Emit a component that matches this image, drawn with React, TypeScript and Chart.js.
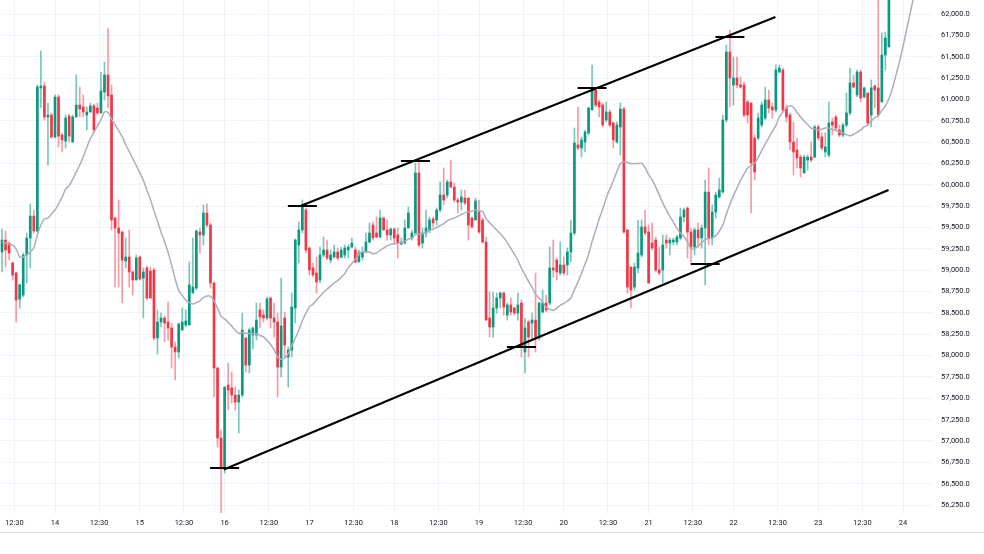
import React, { useEffect, useRef } from 'react';
import { Chart, registerables } from 'chart.js';
Chart.register(...registerables);

// Hourly candles; x = hours since day "14" 00:00
const FIRST_HOUR = -15;

const opens = [
  59213, 59353, 59318, 59084, 58967, 58663, 58709, 59178, 59377, 59634,
  59459, 61134, 61157, 60794, 60817, 60560, 61028, 60583, 60513, 60806,
  60501, 60794, 60934, 60911, 60817, 60852, 60923, 60899, 60841, 61087,
  61286, 61052, 59611, 59494, 59447, 59107, 59154, 58979, 58885, 59154,
  58908, 59026, 58990, 59002, 58206, 58393, 58440, 58393, 58323, 58100,
  58042, 58299, 58358, 58358, 58733, 58791, 59447, 59412, 59670, 59529,
  58850, 57854, 57035, 56671, 57655, 57620, 57538, 57456, 57538, 58206,
  57889, 58241, 58241, 58534, 58475, 58440, 58674, 58440, 58393, 57866,
  58440, 57983, 58065, 58557, 59295, 59471, 59705, 59260, 59026, 58967,
  58885, 59178, 59236, 59119, 59154, 59213, 59154, 59178, 59236, 59271,
  59236, 59096, 59154, 59213, 59330, 59529, 59435, 59389, 59611, 59471,
  59412, 59482, 59412, 59307, 59318, 59494, 59377, 59435, 60138, 59318,
  59435, 59471, 59599, 59588, 59705, 59880, 59880, 60033, 59974, 59822,
  59798, 59845, 59845, 59611, 59588, 59681, 59588, 59330, 58440, 58335,
  58557, 58674, 58733, 58475, 58593, 58557, 58498, 58616, 58042, 58393,
  58381, 58416, 58206, 58510, 58616, 58616, 59026, 59119, 58967, 59061,
  59061, 59213, 59435, 60466, 60431, 60501, 60607, 60876, 61110, 60970,
  60934, 60759, 60852, 60724, 60501, 60677, 60888, 59471, 59037, 58803,
  59026, 59178, 59506, 59447, 59318, 59353, 59002, 59002, 59353, 59318,
  59330, 59330, 59377, 59623, 59728, 59447, 59271, 59471, 59377, 59494,
  59915, 59377, 59681, 59857, 59915, 60759, 61555, 61169, 61251, 61169,
  61169, 60970, 60958, 60548, 60548, 60700, 60782, 60993, 60911, 60876,
  61321, 61344, 60899, 60817, 60501, 60407, 60325, 60138, 60290, 60325,
  60325, 60677, 60560, 60384, 60349, 60735, 60794, 60642, 60583, 60700,
  60841, 61192, 61052, 61321, 61028, 61075, 60817, 61157, 61134, 60970,
  61520, 61614, 62223, 62900, 63500, 63900, 64300, 64500, 64400, 64600,
];

const highs = [
  59482, 59459, 59330, 59096, 58979, 58838, 59201, 59435, 59775, 59705,
  61169, 61567, 61204, 60958, 60841, 61052, 61052, 60607, 60817, 60829,
  60817, 61286, 61145, 61052, 60911, 60958, 60946, 60958, 61321, 61438,
  61836, 61169, 59623, 59822, 59459, 59377, 59471, 58990, 59178, 59166,
  59026, 59049, 59037, 59026, 58534, 58498, 58463, 58627, 58381, 58159,
  58381, 58557, 58534, 59096, 59377, 59471, 59494, 59763, 59775, 59553,
  58862, 57866, 57129, 57632, 57913, 57807, 57632, 57597, 58498, 58217,
  58323, 58335, 58616, 58616, 58534, 58686, 58686, 58616, 58498, 58908,
  58510, 58100, 58733, 59365, 59564, 59822, 59728, 59271, 59084, 59154,
  59271, 59389, 59353, 59236, 59295, 59260, 59271, 59295, 59295, 59377,
  59271, 59236, 59271, 59435, 59553, 59564, 59623, 59705, 59623, 59588,
  59494, 59494, 59494, 59377, 59588, 59740, 59471, 60255, 60267, 59494,
  59705, 59623, 59623, 59728, 60033, 60197, 60056, 60290, 60021, 59845,
  59939, 59939, 59845, 59623, 59845, 59822, 59611, 59389, 58745, 58745,
  58733, 58745, 58745, 58616, 58674, 58569, 58733, 58651, 58440, 58416,
  58498, 58967, 58627, 58768, 58709, 59271, 59353, 59143, 59330, 59154,
  59260, 59588, 60665, 60911, 60560, 60642, 60911, 61403, 61134, 60993,
  60958, 60970, 60876, 60735, 60735, 60958, 60911, 59471, 59037, 59084,
  59588, 59588, 59705, 59529, 59553, 59389, 59271, 59412, 59412, 59377,
  59377, 59412, 59728, 59728, 59740, 59494, 59494, 59553, 59529, 60056,
  60197, 59763, 59915, 60079, 60817, 61637, 61813, 61496, 61496, 61262,
  61204, 60993, 60958, 60583, 60841, 60970, 61145, 61110, 60958, 61403,
  61403, 61368, 60934, 60841, 60735, 60548, 60349, 60349, 60349, 60501,
  60700, 60700, 60607, 60607, 60970, 60782, 60817, 60700, 60724, 61075,
  61368, 61286, 61344, 61344, 61145, 61075, 61227, 61169, 62281, 61778,
  61789, 62340, 63050, 63650, 64050, 64450, 64700, 64650, 64800, 64900,
];

const lows = [
  58979, 59037, 59119, 58885, 58393, 58557, 58686, 58850, 59026, 59435,
  59447, 60899, 60759, 60231, 60548, 60548, 60443, 60384, 60431, 60501,
  60501, 60794, 60794, 60794, 60642, 60852, 60618, 60817, 60841, 60993,
  60899, 59471, 58803, 58803, 58616, 59026, 58803, 58709, 58885, 58885,
  58440, 58651, 58674, 58182, 58018, 58335, 58159, 58182, 57854, 57714,
  57971, 58299, 58335, 58358, 58733, 58768, 59201, 59295, 59506, 58791,
  57515, 56929, 56160, 56625, 57363, 57445, 57363, 57094, 57515, 57807,
  57796, 58077, 58182, 58323, 58393, 58416, 58323, 58217, 57515, 57749,
  57971, 57632, 57983, 58381, 59084, 59435, 59201, 58944, 58920, 58733,
  58850, 59154, 59119, 59084, 59143, 59119, 59143, 59143, 59143, 59260,
  59084, 59096, 59119, 59201, 59318, 59353, 59377, 59377, 59471, 59353,
  59353, 59318, 59143, 59295, 59307, 59494, 59353, 59435, 59271, 59260,
  59389, 59435, 59506, 59529, 59681, 59763, 59845, 59962, 59798, 59670,
  59705, 59763, 59353, 59494, 59588, 59435, 59318, 58416, 58217, 58217,
  58498, 58557, 58475, 58416, 58475, 58475, 58416, 57983, 57796, 57983,
  58182, 58042, 58182, 58498, 58510, 58593, 58920, 58885, 58944, 58944,
  58944, 59096, 59412, 60407, 60325, 60384, 60583, 60876, 60911, 60794,
  60677, 60735, 60677, 60431, 60489, 60349, 59435, 58733, 58557, 58768,
  58967, 59154, 59412, 58850, 59236, 58979, 58944, 58850, 59260, 59178,
  59295, 59295, 59353, 59564, 59143, 59096, 59178, 59271, 59260, 58827,
  59295, 59295, 59611, 59845, 59904, 60735, 60911, 60934, 61134, 61134,
  60794, 60724, 59670, 60056, 60525, 60677, 60759, 60841, 60782, 60852,
  61309, 60852, 60735, 60407, 60115, 60197, 60091, 60138, 60173, 60267,
  60314, 60525, 60407, 60325, 60325, 60583, 60642, 60560, 60560, 60677,
  60817, 61134, 61028, 60970, 61016, 60700, 60677, 60899, 60794, 60970,
  61344, 61614, 62190, 62800, 63350, 63750, 64150, 64200, 64300, 64450,
];

const closes = [
  59353, 59236, 59201, 58944, 58651, 58827, 59178, 59377, 59634, 59459,
  61145, 61157, 60794, 60817, 60560, 61028, 60571, 60525, 60782, 60571,
  60794, 60934, 60888, 60852, 60852, 60923, 60642, 60841, 61098, 61286,
  61040, 59588, 59494, 59435, 59119, 59154, 58979, 58885, 59143, 58897,
  58979, 58674, 58674, 58206, 58393, 58440, 58381, 58323, 58100, 58042,
  58370, 58393, 58405, 58827, 58803, 59459, 59412, 59670, 59529, 58850,
  57854, 57035, 56683, 57632, 57597, 57538, 57456, 57538, 58299, 57889,
  58299, 58323, 58416, 58452, 58440, 58663, 58440, 58393, 57866, 58346,
  58124, 58065, 58569, 59353, 59471, 59763, 59236, 59002, 58944, 58862,
  59178, 59236, 59143, 59178, 59213, 59143, 59236, 59260, 59271, 59318,
  59096, 59201, 59213, 59330, 59435, 59377, 59389, 59611, 59471, 59412,
  59482, 59377, 59318, 59330, 59494, 59670, 59435, 60138, 59295, 59435,
  59494, 59588, 59553, 59705, 59880, 59822, 60033, 59974, 59822, 59798,
  59857, 59787, 59529, 59506, 59810, 59447, 59330, 58416, 58335, 58557,
  58674, 58733, 58569, 58593, 58510, 58498, 58593, 58100, 58323, 58217,
  58416, 58217, 58616, 58616, 58534, 59026, 59002, 58979, 59061, 58967,
  59213, 59435, 60489, 60431, 60525, 60618, 60899, 61110, 60934, 60911,
  60700, 60852, 60700, 60525, 60700, 60888, 59447, 58803, 58768, 59037,
  59201, 59506, 59435, 58850, 59260, 59002, 58967, 59295, 59318, 59353,
  59353, 59389, 59623, 59705, 59447, 59271, 59471, 59377, 59494, 59915,
  59377, 59681, 59880, 59939, 60759, 61555, 61251, 61251, 61169, 61145,
  60817, 60817, 60255, 60150, 60782, 60934, 60993, 60899, 60876, 61344,
  61368, 60876, 60794, 60501, 60384, 60314, 60197, 60325, 60325, 60290,
  60677, 60548, 60431, 60443, 60724, 60700, 60665, 60583, 60700, 60841,
  61192, 61145, 61321, 61016, 61134, 60724, 61134, 61110, 60817, 61520,
  61719, 62223, 62900, 63500, 63900, 64300, 64500, 64400, 64600, 64700,
];

// moving average (20) values for the first candles (earlier history not shown)
const MA_PERIOD = 20;
const maHead = [
  59330, 59319, 59307, 59295, 59248, 59155, 59155, 59178, 59213, 59260,
  59412, 59529, 59599, 59611, 59658, 59705, 59775, 59857, 59950,
];

// trend channel lines [hour, price]
const upperLine = [[69.8, 59757], [203.9, 61965]];
const lowerLine = [[47.8, 56666], [235.9, 59939]];

// pivot marks (center hour, price)
const pivotHours = [48, 70, 102, 132, 152, 184, 191];
const pivotPrices = [56683, 59752, 60279, 58100, 61134, 59072, 61731];
const PIVOT_HALF = 4.1;

const xTickHours = [-11.5, 0, 12.5, 24, 36.5, 48, 60.5, 72, 84.5, 96, 108.5, 120, 132.5, 144, 156.5, 168, 180.5, 192, 204.5, 216, 228.5, 240];
const xTickLabels = ['12:30', '14', '12:30', '15', '12:30', '16', '12:30', '17', '12:30', '18', '12:30', '19', '12:30', '20', '12:30', '21', '12:30', '22', '12:30', '23', '12:30', '24'];
const priceTicks = [56250, 56500, 56750, 57000, 57250, 57500, 57750, 58000, 58250, 58500, 58750, 59000, 59250, 59500, 59750, 60000, 60250, 60500, 60750, 61000, 61250, 61500, 61750, 62000];

const X_MIN = -15.57;
const X_MAX = 248.2;
const Y_MIN = 56145;
const Y_MAX = 62164;

const UP = '#089981';
const DOWN = '#f23645';
const UP_WICK = 'rgba(8,153,129,0.55)';
const DOWN_WICK = 'rgba(242,54,69,0.5)';
const GRID = '#f0f3fa';
const TEXT = '#131722';
const FONT = { family: 'Roboto', size: 7.5 };

export default function App() {
  const ref = useRef<HTMLCanvasElement>(null);

  useEffect(() => {
    document.body.style.margin = '0';
    const canvas = ref.current;
    if (!canvas) return;

    const hours = closes.map((_, i) => FIRST_HOUR + i);
    const up = closes.map((c, i) => c >= opens[i]);
    const wickData = hours.map((h, i) => ({
      x: h,
      y: [Math.min(lows[i], opens[i], closes[i]), Math.max(highs[i], opens[i], closes[i])],
    }));
    const bodyData = hours.map((h, i) => ({ x: h, y: [opens[i], closes[i]] }));
    const maData = closes.map((_, i) => {
      if (i < MA_PERIOD - 1) return { x: hours[i], y: maHead[i] };
      let s = 0;
      for (let k = i - MA_PERIOD + 1; k <= i; k++) s += closes[k];
      return { x: hours[i], y: s / MA_PERIOD };
    });
    const pivotData: any[] = [];
    pivotHours.forEach((h, i) => {
      pivotData.push({ x: h - PIVOT_HALF, y: pivotPrices[i] });
      pivotData.push({ x: h + PIVOT_HALF, y: pivotPrices[i] });
      pivotData.push({ x: h + PIVOT_HALF + 0.01, y: null });
    });

    const bottomLine = {
      id: 'bottomLine',
      afterDraw(chart: any) {
        const { ctx, width } = chart;
        ctx.save();
        ctx.strokeStyle = '#e0e3eb';
        ctx.lineWidth = 1;
        ctx.beginPath();
        ctx.moveTo(0, 532.5);
        ctx.lineTo(width, 532.5);
        ctx.stroke();
        ctx.restore();
      },
    };

    const chart = new Chart(canvas, {
      type: 'bar',
      data: {
        datasets: [
          {
            type: 'line',
            label: 'pivots',
            data: pivotData,
            borderColor: '#000',
            borderWidth: 2,
            pointRadius: 0,
            spanGaps: false,
            order: 0,
          } as any,
          {
            type: 'line',
            label: 'upper',
            data: upperLine.map(([x, y]) => ({ x, y })),
            borderColor: '#000',
            borderWidth: 2,
            pointRadius: 0,
            order: 0,
          } as any,
          {
            type: 'line',
            label: 'lower',
            data: lowerLine.map(([x, y]) => ({ x, y })),
            borderColor: '#000',
            borderWidth: 2,
            pointRadius: 0,
            order: 0,
          } as any,
          {
            type: 'line',
            label: 'MA',
            data: maData,
            borderColor: '#adadbb',
            borderWidth: 1.5,
            pointRadius: 0,
            tension: 0.2,
            order: 1,
          } as any,
          {
            type: 'bar',
            label: 'bodies',
            data: bodyData,
            backgroundColor: up.map((u) => (u ? UP : DOWN)),
            barThickness: 2,
            minBarLength: 1,
            grouped: false,
            borderWidth: 0,
            clip: 0,
            order: 2,
          } as any,
          {
            type: 'bar',
            label: 'wicks',
            data: wickData,
            backgroundColor: up.map((u) => (u ? UP_WICK : DOWN_WICK)),
            barThickness: 1,
            grouped: false,
            borderWidth: 0,
            clip: 0,
            order: 3,
          } as any,
        ],
      },
      options: {
        responsive: false,
        animation: false,
        devicePixelRatio: 1,
        layout: { padding: 0 },
        plugins: { legend: { display: false }, tooltip: { enabled: false } },
        scales: {
          x: {
            type: 'linear',
            min: X_MIN,
            max: X_MAX,
            offset: false,
            grid: { color: GRID, drawTicks: false, offset: false },
            border: { display: false },
            ticks: {
              padding: 5,
              maxRotation: 0,
              autoSkip: false,
              color: TEXT,
              font: FONT,
              callback: (_v: any, i: number) => xTickLabels[i],
            },
            afterBuildTicks: (s: any) => {
              s.ticks = xTickHours.map((v) => ({ value: v }));
            },
            afterFit: (s: any) => {
              s.height = 40;
              s.paddingLeft = 0;
              s.paddingRight = 0;
            },
          },
          y: {
            type: 'linear',
            position: 'right',
            min: Y_MIN,
            max: Y_MAX,
            grid: { color: GRID, drawTicks: false },
            border: { display: false },
            ticks: {
              padding: 9,
              color: TEXT,
              font: FONT,
              callback: (v: any) =>
                Number(v).toLocaleString('en-US', { minimumFractionDigits: 1, maximumFractionDigits: 1 }),
            },
            afterBuildTicks: (s: any) => {
              s.ticks = priceTicks.map((v) => ({ value: v }));
            },
            afterFit: (s: any) => {
              s.width = 52;
              s.paddingTop = 0;
              s.paddingBottom = 0;
            },
          },
        },
      } as any,
      plugins: [bottomLine],
    });

    return () => chart.destroy();
  }, []);

  return (
    <div style={{ width: 984, height: 554, background: '#fff' }}>
      <style>{'body{margin:0;}'}</style>
      <canvas ref={ref} width={984} height={554} style={{ display: 'block' }} />
    </div>
  );
}
